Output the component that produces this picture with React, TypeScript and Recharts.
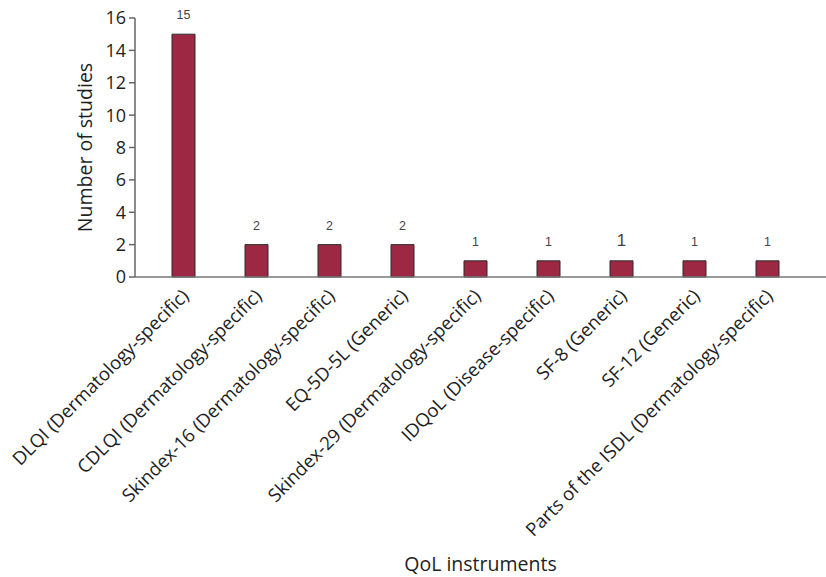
import { BarChart, Bar, XAxis, YAxis, LabelList } from "recharts"

const instruments = [
  "DLQI (Dermatology-specific)",
  "CDLQI (Dermatology-specific)",
  "Skindex-16 (Dermatology-specific)",
  "EQ-5D-5L (Generic)",
  "Skindex-29 (Dermatology-specific)",
  "IDQoL (Disease-specific)",
  "SF-8 (Generic)",
  "SF-12 (Generic)",
  "Parts of the ISDL (Dermatology-specific)",
]
const studies = [15, 2, 2, 2, 1, 1, 1, 1, 1]
const yTicks = [0, 2, 4, 6, 8, 10, 12, 14, 16]

const data = instruments.map((name, i) => ({ name, studies: studies[i] }))

const font = "'Open Sans', 'DejaVu Sans', sans-serif"

function AngledTick({ x, y, payload }: any) {
  return (
    <g transform={`translate(${x},${y})`}>
      <text
        x={-4}
        y={0}
        dy={13}
        textAnchor="end"
        transform="rotate(-45)"
        fontFamily={font}
        fontSize={18.5}
        fill="#1e1e1e"
      >
        {payload.value}
      </text>
    </g>
  )
}

function ValueLabel({ x, y, width, value, index }: any) {
  // the SF-8 count is printed larger in the original figure
  const big = index === 6
  return (
    <text
      x={x + width / 2}
      y={y - 15}
      textAnchor="middle"
      fontFamily="'Liberation Sans', Arial, sans-serif"
      fontSize={big ? 17 : 12.5}
      fill="#444"
    >
      {value}
    </text>
  )
}

export default function App() {
  return (
    <div style={{ position: "absolute", left: 0, top: 0, background: "#fff" }}>
      <BarChart
        width={826}
        height={577}
        data={data}
        margin={{ top: 18, right: 0, left: 0, bottom: 0 }}
        barSize={23}
      >
        <XAxis
          dataKey="name"
          interval={0}
          height={300}
          tickLine={false}
          padding={{ left: 12, right: 22 }}
          axisLine={{ stroke: "#777", strokeWidth: 1.5 }}
          tick={<AngledTick />}
          label={{
            value: "QoL instruments",
            position: "insideBottom",
            offset: 6,
            fontFamily: font,
            fontSize: 19.5,
            fill: "#1e1e1e",
          }}
        />
        <YAxis
          width={135}
          domain={[0, 16]}
          ticks={yTicks}
          interval={0}
          tickSize={6}
          tickMargin={3}
          axisLine={{ stroke: "#666", strokeWidth: 1.5 }}
          tickLine={{ stroke: "#666", strokeWidth: 1.5 }}
          tick={{ fontFamily: font, fontSize: 18, fill: "#1e1e1e" }}
          label={{
            value: "Number of studies",
            angle: -90,
            position: "insideLeft",
            offset: 85,
            fontFamily: font,
            fontSize: 19.5,
            fill: "#1e1e1e",
            style: { textAnchor: "middle" },
          }}
        />
        <Bar dataKey="studies" fill="#9c2844" stroke="#2a2a2a" strokeWidth={1} isAnimationActive={false}>
          <LabelList dataKey="studies" content={<ValueLabel />} />
        </Bar>
      </BarChart>
    </div>
  )
}
